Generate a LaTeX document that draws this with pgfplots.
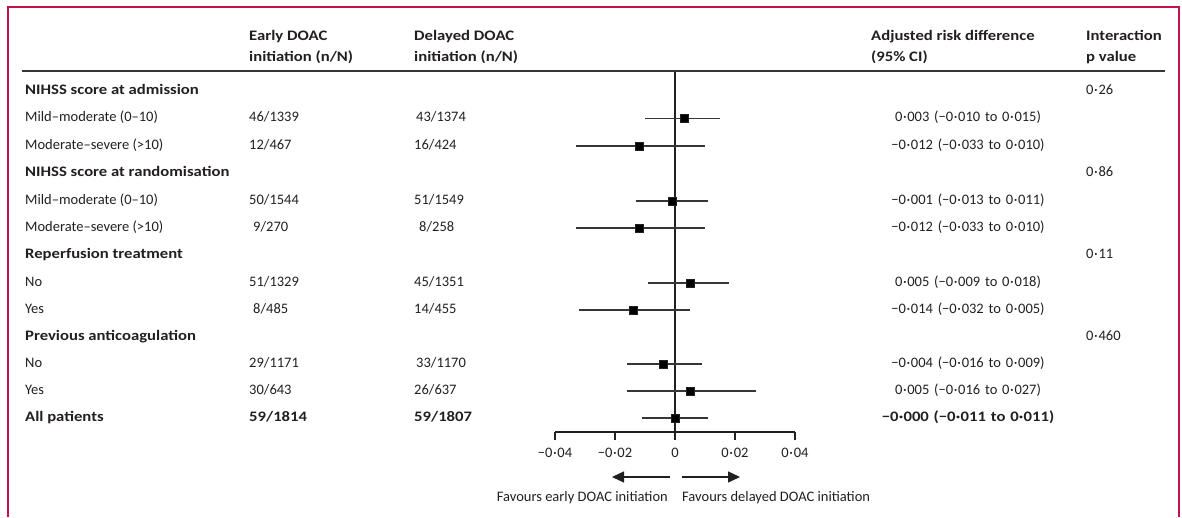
\documentclass[border=0pt]{standalone}
\usepackage{pgfplots}
\pgfplotsset{compat=1.18}
\usepackage{pgfplotstable}
\usetikzlibrary{arrows.meta}
\usepackage{fontspec}
\setmainfont{Carlito}
\newfontfamily\bfont{Carlito}[FakeStretch=1.15]
\definecolor{lancet}{RGB}{196,18,72}
\definecolor{txt}{RGB}{35,31,32}
\newcommand\md{\makebox[5pt][c]{·}}
\newcommand\rd[1]{{\spaceskip=4.8pt plus 1pt #1}}
\pgfplotstableread{
y est lo hi
398.5 0.003 -0.010 0.015
371 -0.012 -0.033 0.010
316 -0.001 -0.013 0.011
289 -0.012 -0.033 0.010
234 0.005 -0.009 0.018
207 -0.014 -0.032 0.005
153 -0.004 -0.016 0.009
126 0.005 -0.016 0.027
99 -0.000 -0.011 0.011
}\forest
\begin{document}
\begin{tikzpicture}[x=1pt,y=1pt,
  t/.style={text=txt,inner sep=0pt,text height=10pt,text depth=3pt,font=\fontsize{14.5}{17}\selectfont},
  tb/.style={t,font=\bfont\fontsize{14.5}{17}\selectfont\bfseries}]
\begin{axis}[at={(555pt,85pt)},anchor=south west,scale only axis,
  width=240pt,height=361pt,xmin=-0.04,xmax=0.04,ymin=85,ymax=446,
  axis x line=bottom,axis y line=none,x axis line style={-,line width=1.3pt,txt},
  scaled x ticks=false,
  xtick={-0.04,-0.02,0,0.02,0.04},
  xticklabels={−0\md 04,−0\md 02,0,0\md 02,0\md 04},
  tick align=outside,major tick length=8pt,
  every tick/.style={txt,line width=1.3pt},
  tick label style={text=txt,font=\fontsize{14.5}{17}\selectfont},
  xticklabel style={yshift=-5pt},
  clip=false]
\addplot[no marks,txt,line width=1.3pt] coordinates {(0,85) (0,446)};
\addplot[only marks,mark=square*,mark size=3.8pt,mark options={fill=black,draw=txt},
  error bars/.cd,x dir=both,x explicit,error mark=none,
  error bar style={txt!90,line width=1.3pt}]
  table[x=est,y=y,x error plus expr=\thisrow{hi}-\thisrow{est},x error minus expr=\thisrow{est}-\thisrow{lo}]{\forest};
\end{axis}
\useasboundingbox (0,0) rectangle (1182,517);
% frame
\draw[lancet,line width=1.4pt] (8,0) -- (8,510) -- (1179,510) -- (1179,0);
% header rule
\draw[txt!90,line width=1.2pt] (22,446) -- (1165,446);
% arrows
\draw[txt,line width=1.4pt,-{Triangle[length=12pt,width=11pt]}] (670,40) -- (612,40);
\draw[txt,line width=1.4pt,-{Triangle[length=12pt,width=11pt]}] (682,40) -- (740,40);
\node[t,anchor=east] at (668,19) {Favours early DOAC initiation};
\node[t,anchor=west] at (682,19) {Favours delayed DOAC initiation};
% headers
\node[tb,anchor=west] at (249,480) {Early DOAC};
\node[tb,anchor=west] at (249,459) {initiation (n/N)};
\node[tb,anchor=west] at (414,480) {Delayed DOAC};
\node[tb,anchor=west] at (414,459) {initiation (n/N)};
\node[tb,anchor=west] at (871,480) {Adjusted risk difference};
\node[tb,anchor=west] at (871,459) {(95\% CI)};
\node[tb,anchor=west] at (1086,480) {Interaction};
\node[tb,anchor=west] at (1086,459) {p value};
% labels
\node[tb,anchor=west] at (25,426) {NIHSS score at admission};
\node[t,anchor=west] at (25,398.5) {Mild–moderate (0–10)};
\node[t,anchor=west] at (25,371) {Moderate–severe (>10)};
\node[tb,anchor=west] at (25,344) {NIHSS score at randomisation};
\node[t,anchor=west] at (25,316) {Mild–moderate (0–10)};
\node[t,anchor=west] at (25,289) {Moderate–severe (>10)};
\node[tb,anchor=west] at (25,261.5) {Reperfusion treatment};
\node[t,anchor=west] at (25,234) {No};
\node[t,anchor=west] at (25,207) {Yes};
\node[tb,anchor=west] at (25,180) {Previous anticoagulation};
\node[t,anchor=west] at (25,153) {No};
\node[t,anchor=west] at (25,126) {Yes};
\node[tb,anchor=west] at (25,99) {All patients};
% early
\node[t,anchor=west] at (249,398.5) {46/1339};
\node[t,anchor=west] at (249,371) {12/467};
\node[t,anchor=west] at (249,316) {50/1544};
\node[t,anchor=west] at (253,289) {9/270};
\node[t,anchor=west] at (249,234) {51/1329};
\node[t,anchor=west] at (253,207) {8/485};
\node[t,anchor=west] at (249,153) {29/1171};
\node[t,anchor=west] at (249,126) {30/643};
\node[tb,anchor=west] at (249,99) {59/1814};
% delayed
\node[t,anchor=west] at (416,398.5) {43/1374};
\node[t,anchor=west] at (414,371) {16/424};
\node[t,anchor=west] at (414,316) {51/1549};
\node[t,anchor=west] at (419,289) {8/258};
\node[t,anchor=west] at (414,234) {45/1351};
\node[t,anchor=west] at (414,207) {14/455};
\node[t,anchor=west] at (416,153) {33/1170};
\node[t,anchor=west] at (414,126) {26/637};
\node[tb,anchor=west] at (414,99) {59/1807};
% risk difference
\node[t] at (968,398.5) {\rd{0\md 003 (−0\md 010 to 0\md 015)}};
\node[t] at (968,371) {\rd{−0\md 012 (−0\md 033 to 0\md 010)}};
\node[t] at (968,316) {\rd{−0\md 001 (−0\md 013 to 0\md 011)}};
\node[t] at (968,289) {\rd{−0\md 012 (−0\md 033 to 0\md 010)}};
\node[t] at (968,234) {\rd{0\md 005 (−0\md 009 to 0\md 018)}};
\node[t] at (968,207) {\rd{−0\md 014 (−0\md 032 to 0\md 005)}};
\node[t] at (968,153) {\rd{−0\md 004 (−0\md 016 to 0\md 009)}};
\node[t] at (968,126) {\rd{0\md 005 (−0\md 016 to 0\md 027)}};
\node[tb] at (968,99) {\rd{−0\md 000 (−0\md 011 to 0\md 011)}};
% p values
\node[t,anchor=west] at (1086,426) {0\md 26};
\node[t,anchor=west] at (1086,344) {0\md 86};
\node[t,anchor=west] at (1086,261.5) {0\md 11};
\node[t,anchor=west] at (1086,180) {0\md 460};
\end{tikzpicture}
\end{document}
